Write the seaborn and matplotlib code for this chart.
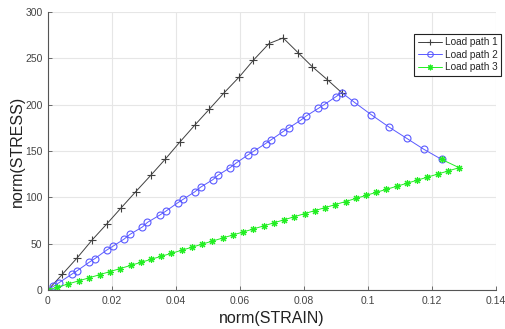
import matplotlib
matplotlib.use("Agg")
import matplotlib.pyplot as plt
from matplotlib.lines import Line2D
import seaborn as sns
import pandas as pd

# Load path 1
strain_1 = [0, 0.0045, 0.0092, 0.0138, 0.0183, 0.0227, 0.0274, 0.0322, 0.0366, 0.0413,
            0.0459, 0.0504, 0.0551, 0.0598, 0.0642, 0.0691, 0.0735, 0.0782, 0.0826, 0.0873, 0.0918]
stress_1 = [0, 17, 35, 54, 71, 88, 106, 124, 141, 160,
            178, 195, 213, 230, 248, 266, 272, 256, 241, 227, 213]

# Load path 2
strain_2 = [0, 0.0017, 0.0035, 0.0074, 0.0092, 0.0129, 0.0147, 0.0183, 0.0202, 0.0238,
            0.0256, 0.0295, 0.0311, 0.0350, 0.0368, 0.0405, 0.0423, 0.0459, 0.0477, 0.0515,
            0.0532, 0.0569, 0.0588, 0.0626, 0.0644, 0.0680, 0.0697, 0.0735, 0.0753, 0.0791,
            0.0808, 0.0845, 0.0863, 0.0900, 0.0918, 0.0956, 0.1011, 0.1067, 0.1121, 0.1175, 0.1230]
stress_2 = [0, 4, 8, 17, 21, 30, 34, 43, 47, 55,
            60, 68, 73, 81, 85, 94, 98, 106, 111, 119,
            124, 132, 137, 146, 150, 158, 162, 171, 175, 183.5,
            188, 196, 200, 208.6, 213, 203, 189, 175.6, 163.7, 151.8, 141]

# Load path 3
strain_3 = [0, 0.0029, 0.0064, 0.0097, 0.0129, 0.0163, 0.0194, 0.0226, 0.0258, 0.0290,
            0.0322, 0.0354, 0.0386, 0.0418, 0.0450, 0.0482, 0.0514, 0.0546, 0.0578, 0.0610,
            0.0642, 0.0674, 0.0706, 0.0738, 0.0770, 0.0802, 0.0834, 0.0866, 0.0898, 0.0930,
            0.0962, 0.0994, 0.1026, 0.1058, 0.1090, 0.1122, 0.1154, 0.1186, 0.1218, 0.1250,
            0.1285, 0.1230]
stress_3 = [0, 3.0, 6.6, 10.0, 13.2, 16.7, 19.9, 23.2, 26.5, 29.8,
            33.1, 36.4, 39.6, 42.9, 46.2, 49.5, 52.8, 56.1, 59.4, 62.6,
            65.9, 69.2, 72.5, 75.8, 79.1, 82.4, 85.7, 88.9, 92.2, 95.5,
            98.8, 102.1, 105.4, 108.7, 111.9, 115.2, 118.5, 121.8, 125.1, 128.4,
            132.0, 141.0]

labels = ["Load path 1", "Load path 2", "Load path 3"]
x_ticks = [0, 0.02, 0.04, 0.06, 0.08, 0.1, 0.12, 0.14]
x_ticklabels = ["0", "0.02", "0.04", "0.06", "0.08", "0.1", "0.12", "0.14"]
y_ticks = [0, 50, 100, 150, 200, 250, 300]

sns.set_theme(style="whitegrid")
plt.rcParams['font.family'] = ['Liberation Sans', 'DejaVu Sans']

fig = plt.figure(figsize=(5.05, 3.29), dpi=100)
ax = fig.add_axes([0.095, 0.1185, 0.887, 0.845])

# asterisk marker: eight spokes (plus and cross together)
asterisk = (8, 2, 0)

# (x, y, colour, marker, size, face colour, indices that carry a marker)
paths = [
    (strain_1, stress_1, "#404040", "+", 6, "#404040", None),
    (strain_2, stress_2, "#5a5aff", "o", 5, "none", list(range(1, len(strain_2)))),
    (strain_3, stress_3, "#22ee22", asterisk, 5, "#22ee22", None),
]
for sx, sy, col, mk, ms, fc, mev in paths:
    df = pd.DataFrame({"strain": sx, "stress": sy})
    sns.lineplot(data=df, x="strain", y="stress", sort=False, estimator=None,
                 color=col, ax=ax)

handles = []
for line, (sx, sy, col, mk, ms, fc, mev) in zip(ax.lines, paths):
    line.set_linestyle("-")
    line.set_linewidth(0.7)
    line.set_marker(mk)
    line.set_markersize(ms)
    line.set_markeredgewidth(0.8)
    line.set_markeredgecolor(col)
    line.set_markerfacecolor(fc)
    if mev is not None:
        line.set_markevery(mev)
    handles.append(Line2D([], [], color=col, linewidth=0.7, marker=mk,
                          markersize=ms - 1, markeredgewidth=0.8,
                          markeredgecolor=col, markerfacecolor=fc))

ax.set_xlim(0, 0.14)
ax.set_ylim(0, 300)
ax.set_xticks(x_ticks)
ax.set_xticklabels(x_ticklabels)
ax.set_yticks(y_ticks)
ax.grid(True, color="#e6e6e6", linewidth=0.8)
ax.set_facecolor("white")
for side in ["top", "right"]:
    ax.spines[side].set_visible(False)
for side in ["left", "bottom"]:
    ax.spines[side].set_visible(True)
    ax.spines[side].set_color("#555555")
    ax.spines[side].set_linewidth(0.8)
ax.tick_params(axis="both", direction="in", length=3, width=0.6, color="#555555",
               labelsize=7.5, labelcolor="#444444", pad=4, left=True, bottom=True)
ax.set_xlabel("norm(STRAIN)", fontsize=11.5, color="#222222", labelpad=4)
ax.set_ylabel("norm(STRESS)", fontsize=11.5, color="#222222", labelpad=0)

leg = ax.legend(handles, labels, loc="upper right", bbox_to_anchor=(0.992, 0.8967),
                bbox_transform=fig.transFigure, borderaxespad=0,
                fontsize=7.2, frameon=True, fancybox=False, framealpha=1,
                edgecolor="#222222", borderpad=0.35, labelspacing=0.25,
                handlelength=2.4, handletextpad=0.3, numpoints=1)
leg.get_frame().set_linewidth(0.8)

fig.savefig("out.png", dpi=100, facecolor="white")
